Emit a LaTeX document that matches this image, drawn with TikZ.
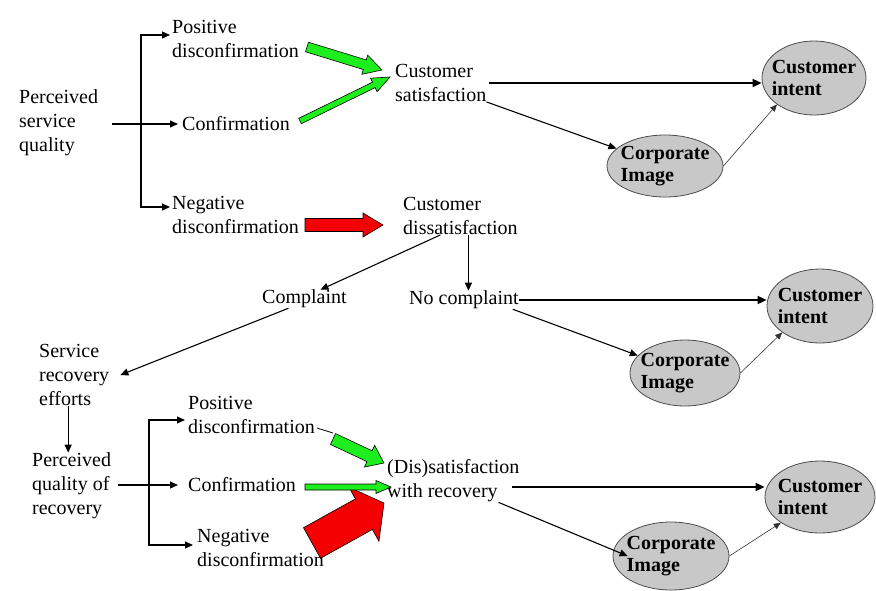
\documentclass[tikz,border=0pt]{standalone}
\usepackage{fontspec}
\setmainfont{Liberation Serif}
\usetikzlibrary{arrows.meta,shapes.geometric,calc}
\definecolor{lime}{RGB}{30,238,30}
\definecolor{bred}{RGB}{245,0,0}
\definecolor{ellgray}{RGB}{200,200,200}
% block arrow: #1 fill, #2 tail, #3 tip, #4 shaft half width, #5 head half width, #6 head length
\newcommand\blockarr[6]{%
  \coordinate (bac) at ($(#3)!#6!(#2)$);
  \filldraw[fill=#1, draw=black, line width=0.6pt, line join=miter]
    ($(#2)!#4!90:(#3)$) -- ($(bac)!#4!90:(#3)$) -- ($(bac)!#5!90:(#3)$) -- (#3)
    -- ($(bac)!#5!-90:(#3)$) -- ($(bac)!#4!-90:(#3)$) -- ($(#2)!#4!-90:(#3)$) -- cycle;
}
\begin{document}
\begin{tikzpicture}[x=1pt,y=-1pt,
  txt/.style={inner sep=0pt, anchor=west, align=left, font=\fontsize{20}{24}\selectfont},
  ell/.style={ellipse, draw=black!70, line width=0.8pt, fill=ellgray, inner sep=0pt},
  etxt/.style={inner sep=0pt, align=left, font=\fontsize{20}{22}\selectfont\bfseries},
  arr/.style={-{Triangle[length=8pt,width=7pt]}, line width=1.1pt},
  harr/.style={-{Triangle[length=9pt,width=8pt]}, line width=1.8pt},
  tarr/.style={-{Triangle[length=7pt,width=6pt]}, line width=0.6pt, black!80}]
\useasboundingbox (0,0) rectangle (876,590);

% block arrows (drawn first)
\coordinate (g1a) at (307,47);  \coordinate (g1b) at (382,70);
\coordinate (g2a) at (300,121); \coordinate (g2b) at (390,77);
\coordinate (r1a) at (305,225); \coordinate (r1b) at (383,225);
\coordinate (g3a) at (333,439); \coordinate (g3b) at (384,463);
\coordinate (r2a) at (312,543); \coordinate (r2b) at (384,503);
\coordinate (g4a) at (305,487); \coordinate (g4b) at (391,487);
\blockarr{lime}{g1a}{g1b}{5pt}{10pt}{18pt}
\blockarr{lime}{g2a}{g2b}{3pt}{7.5pt}{18pt}
\blockarr{bred}{r1a}{r1b}{6.5pt}{12pt}{20pt}
\blockarr{lime}{g3a}{g3b}{6pt}{12pt}{16pt}
\blockarr{bred}{r2a}{r2b}{17.5pt}{31pt}{23pt}
\blockarr{lime}{g4a}{g4b}{3pt}{6.5pt}{15pt}

% text nodes
\node[txt] (psq) at (19,123) {Perceived\\service\\quality};
\node[txt] (pd1) at (172,39) {Positive\\disconfirmation};
\node[txt] (cf1) at (182,124) {Confirmation};
\node[txt] (nd1) at (172,215) {Negative\\disconfirmation};
\node[txt] (cs) at (395,83) {Customer\\satisfaction};
\node[txt] (ds) at (403,216) {Customer\\dissatisfaction};
\node[txt] (cp) at (262,299) {Complaint};
\node[txt] (nc) at (409,300) {No complaint};
\node[txt] (sre) at (39,375) {Service\\recovery\\efforts};
\node[txt] (pqr) at (32,486) {Perceived\\quality of\\recovery};
\node[txt] (pd2) at (188,415) {Positive\\disconfirmation};
\node[txt] (cf2) at (188,485) {Confirmation};
\node[txt] (nd2) at (197,548) {Negative\\disconfirmation};
\node[txt] (dsr) at (387,481) {(Dis)satisfaction\\with recovery};

% ellipses
\node[ell, minimum width=104pt, minimum height=74pt] (ci1) at (814,78) {};
\node[etxt] (ci1t) at (ci1) {Customer\\intent};
\node[ell, minimum width=116pt, minimum height=62pt] (co1) at (665,166) {};
\node[etxt] (co1t) at (co1) {Corporate\\Image};
\node[ell, minimum width=106pt, minimum height=74pt] (ci2) at (820,306) {};
\node[etxt] (ci2t) at (ci2) {Customer\\intent};
\node[ell, minimum width=110pt, minimum height=66pt] (co2) at (685,373) {};
\node[etxt] (co2t) at (co2) {Corporate\\Image};
\node[ell, minimum width=110pt, minimum height=72pt] (ci3) at (820,497) {};
\node[etxt] (ci3t) at (ci3) {Customer\\intent};
\node[ell, minimum width=116pt, minimum height=68pt] (co3) at (671,556) {};
\node[etxt] (co3t) at (co3) {Corporate\\Image};

% bracket 1
\coordinate (br1) at (141,124);
\draw[arr] ([xshift=14pt]psq.east |- cf1.west) -- ([xshift=-4pt]cf1.west);
\draw[arr] (br1) |- ([xshift=-2pt,yshift=4pt]pd1.west);
\draw[arr] (br1) |- ([xshift=-2pt,yshift=8pt]nd1.west);

% satisfaction branch
\draw[harr] ([xshift=3pt]cs.east) -- (cs.east -| ci1.west);
\draw[arr] (cs.south east) -- (co1);
\draw[tarr] (co1.east) -- (ci1.south west);

% dissatisfaction branch
\draw[arr] ([xshift=8pt]ds.south) -- ([xshift=8pt]ds.south |- nc.north);
\draw[arr] ([xshift=-20pt]ds.south) -- ([xshift=16pt]cp.north);
\draw[arr] ([xshift=-16pt]cp.south) -- ([xshift=11pt]sre.east);
\draw[arr] ([xshift=-6pt]sre.south) -- ([xshift=-6pt]sre.south |- pqr.north);
\draw[harr] (nc.east) -- (nc.east -| ci2.west);
\draw[arr] ([xshift=-6pt]nc.south east) -- (co2);
\draw[tarr] (co2.east) -- (ci2.south west);

% bracket 2
\coordinate (br2) at (149,486);
\draw[arr] ([xshift=7pt]pqr.east |- cf2.west) -- ([xshift=-10pt]cf2.west);
\draw[arr] (br2) |- ([xshift=-3pt,yshift=-5pt]pd2.west);
\draw[arr] (br2) |- ([xshift=-4pt,yshift=3pt]nd2.west);
\draw[line width=0.8pt] ([xshift=2pt,yshift=-13pt]pd2.east) -- ([yshift=6pt]g3a);

% recovery branch
\draw[harr] ([xshift=-8pt,yshift=-6pt]dsr.east) -- ([yshift=-6pt]dsr.east -| ci3.west);
\draw[arr] ([xshift=-21pt]dsr.south east) -- ([xshift=15pt]co3.west);
\draw[tarr] (co3.east) -- (ci3.south west);
\end{tikzpicture}
\end{document}
